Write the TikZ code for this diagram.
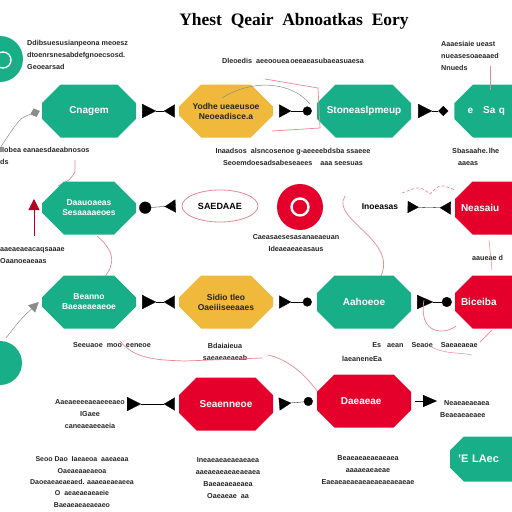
\documentclass[tikz,border=0pt]{standalone}
\usepackage{fontspec}
\setmainfont{Liberation Sans}
\newfontfamily\titlefont{Liberation Serif}
\usetikzlibrary{shapes.misc,shapes.geometric,arrows.meta}
\definecolor{tealc}{HTML}{17AE88}
\definecolor{redc}{HTML}{E4002B}
\definecolor{yelc}{HTML}{F0B93B}
\definecolor{linkred}{HTML}{E88A92}
\begin{document}
\begin{tikzpicture}[x=1pt,y=-1pt,
  hexa/.style={chamfered rectangle, chamfered rectangle xsep=20pt, chamfered rectangle ysep=13pt,
     minimum width=94pt, minimum height=53pt, inner sep=1pt, align=center,
     font=\bfseries\fontsize{10}{12}\selectfont},
  tealhex/.style={hexa, fill=tealc, text=white},
  redhex/.style={hexa, fill=redc, text=white},
  edgehex/.style={text width=82pt, align=left},
  yelhex/.style={hexa, fill=yelc, text=black!85, font=\bfseries\fontsize{8.5}{10}\selectfont},
  lbl/.style={align=center, inner sep=0pt, font=\bfseries\fontsize{7.2}{12}\selectfont, text=black!85},
  lbll/.style={lbl, align=left},
  bow/.style={{Triangle[reversed,length=14pt,width=14pt]}-{Triangle[reversed,length=11pt,width=13pt]}, line width=0.3pt},
  blob/.style={{Triangle[reversed,length=12pt,width=13pt,round]}-{Circle[length=9pt]}, line width=0.3pt},
  link/.style={linkred, line width=0.7pt},
  glink/.style={black!45, line width=0.5pt}]
\useasboundingbox (0,0) rectangle (512,512);
\fill[white] (0,0) rectangle (512,512);

% title
\node[font=\titlefont\bfseries\fontsize{17.5}{19}\selectfont] (title) at (294,21) {Yhest\ \ Qeair\ \ Abnoatkas\ \ Eory};

% corner circles
\node[circle, fill=tealc, minimum size=46pt, inner sep=0pt] (c1) at (0,59) {};
\draw[white, line width=1.4pt] (3,60) circle (8pt);
\node[circle, fill=tealc, minimum size=44pt, inner sep=0pt] (c2) at (0,363) {};

% ---------- row 1
\node[tealhex] (A) at (89,111) {Cnagem};
\node[yelhex] (B) at (226,111) {Yodhe ueaeusoe\\Neoeadisce.a};
\node[tealhex] (C) at (364,111) {Stoneaslpmeup};
\node[tealhex, edgehex] (D) at (502,111) {\ \ e\ \ \ Sa q};

\node[lbll, anchor=west] (t1) at (27,55) {Ddibsuesusianpeona\ meoesz\\dtoenrsnesabdefgnoecsosd.\\Geoearsad};
\node[lbl] (t2) at (293,61) {Dleoedis\ \ aeeoouea\hspace{1pt}oeeaeasubaeasuaesa};
\node[lbll, anchor=west] (t3) at (441,56) {Aaaesiaie\hspace{2pt}ueast\\ nueasesoaeaaed\\ Nnueds};
\node[lbll, anchor=west] (t4) at (0,156) {Ilobea eanaesdaeabnosos\\ ds};
\node[lbl] (t5) at (293,157) {Inaadsos\ \ alsncosenoe g-aeeeebdsba ssaeee\\Seoemdoesadsabeseaees \ \ \ aaa seesuas};
\node[lbll, anchor=west] (t6) at (452,157) {Sbasaahe.\hspace{1pt}lhe\\ \ \ \ aaeas};

\coordinate (g1) at (0,148);
\draw[glink, {Diamond[length=10pt,width=9pt]}-] ([xshift=-2pt]A.west) .. controls (20,118) .. (g1);
\draw[bow] ([xshift=6pt]A.east) -- ([xshift=-4pt]B.west);
\draw[blob] ([xshift=6pt]B.east) -- ([xshift=-5pt]C.west);
\draw[{Triangle[reversed,length=14pt,width=14pt]}-{Diamond[length=10pt,width=10pt]}, line width=0.3pt] ([xshift=7pt]C.east) -- ([xshift=-6pt]D.west);
\draw[glink] (222,98) .. controls (250,80) and (290,80) .. (310,104);
\draw[link] (265,79) -- (318,88) -- (320,128) -- (272,131);
\draw[link] (490,66) -- (490,90);
\draw[link] (75,160) -- (75,172) .. controls (70,180) .. (58,186);

% ---------- row 2
\node[tealhex, font=\bfseries\fontsize{8.5}{10}\selectfont] (E) at (89,208) {Daauoaeas\\Sesaaaaeoes};
\node[ellipse, draw=linkred, line width=0.8pt, minimum width=76pt, minimum height=32pt, inner sep=0pt,
      font=\bfseries\fontsize{9}{10}\selectfont] (F) at (220,206) {SAEDAAE};
\node[circle, fill=redc, minimum size=46pt, inner sep=0pt] (R) at (300,207) {};
\draw[white, line width=2.4pt] (R.center) circle (8.5pt);
\node[font=\bfseries\fontsize{8.5}{10}\selectfont] (T) at (380,207) {Inoeasas};
\node[redhex, edgehex] (G) at (502,208) {Neasaiu};

\draw[{Circle[length=12pt]}-{Triangle[reversed,length=11pt,width=13pt]}, line width=0.3pt] ([xshift=3pt]E.east) -- ([xshift=-6pt]F.west);
\draw[{Triangle[reversed,length=11pt,width=12pt,round]}-{Triangle[reversed,length=11pt,width=13pt]}, line width=0.3pt] ([xshift=6pt]T.east) -- ([xshift=-4pt]G.west);
\coordinate (u1) at (34,236);
\draw[redc!80!black, line width=0.8pt, -{Triangle[length=11pt,width=11pt]}] (u1) -- (34,199);

\node[lbll, anchor=west] (t7) at (0,256) {aaeaeaeacaqsaaae\\ Oaanoeaeaas};
\node[lbl] (t8) at (296,243) {Caeasaesesasanaeaeuan\\Ideaeaeaeasaus};
\node[lbll, anchor=west] (t9) at (472,258) {aaueae d};

\draw[link] (97,236) .. controls (120,255) and (112,270) .. (100,282);
\draw[link] (345,196) .. controls (330,220) and (400,240) .. (380,278);
\draw[link, densely dashed] (402,193) .. controls (420,186) .. (430,194) .. controls (440,184) .. (455,190);
\draw[link, line width=0.5pt] (489,240) -- (492,270);

% ---------- row 3
\node[tealhex, font=\bfseries\fontsize{8.5}{10}\selectfont] (H) at (89,302) {Beanno\\Baeaeaeaeoe};
\node[yelhex] (I) at (226,302) {Sidio tleo\\Oaeiiiseeaaes};
\node[tealhex] (J) at (364,302) {Aahoeoe};
\node[redhex, edgehex] (K) at (502,302) {Biceiba};

\draw[bow] ([xshift=6pt]H.east) -- ([xshift=-4pt]I.west);
\draw[blob] ([xshift=6pt]I.east) -- ([xshift=-5pt]J.west);
\draw[{Triangle[reversed,length=16pt,width=14pt]}-{Circle[length=10pt]}, line width=0.3pt] ([xshift=6pt]J.east) -- ([xshift=-3pt]K.west);
\coordinate (g2) at (6,338);
\draw[glink, -{Triangle[length=10pt,width=10pt]}] (g2) .. controls (20,320) .. ([xshift=-3pt]H.west);
\draw[link] (424,300) .. controls (418,335) and (445,335) .. (456,326);
\draw[link] (492,330) -- (480,342);

\node[lbl] (t10) at (112,345) {Seeuaoe\ \ moo\ \ eeneoe};
\node[lbl] (t11) at (225,352) {Bdaiaieua\\saeaeaeaeab};
\node[lbl] (t12) at (425,345) {Es\ \ \ aean\ \ \ \ Seaoe\ \ \ \ Saeaeaeae};
\node[lbl] (t13) at (362,359) {laeaneneEa};

\draw[link] (120,341) .. controls (135,360) and (160,360) .. (185,361) -- (262,358);
\draw[link] (268,355) .. controls (290,360) and (305,375) .. (318,392);
\draw[link, line width=0.5pt] (430,346) .. controls (445,355) and (460,352) .. (472,355);

% ---------- row 4
\node[redhex] (L) at (226,404) {Seaenneoe};
\node[redhex] (M) at (364,401) {Daeaeae\ \ };
\node[lbl] (t14) at (90,414) {Aaeaeeeeaeaeeeaeo\\IGaee\\caneaeaeeaeia};
\node[lbll, anchor=west] (t15) at (440,409) {\ \ Neaeaeaeaea\\Beaeaeaeaee};
\node[chamfered rectangle, chamfered rectangle xsep=8pt, chamfered rectangle ysep=10pt,
      fill=tealc, text=white, minimum width=80pt, minimum height=45pt, inner sep=0pt,
      text width=64pt, align=left,
      font=\bfseries\fontsize{11}{12}\selectfont] (N) at (490,459) {'E LAec};
\coordinate (arr) at (437,401);

\draw[bow] ([xshift=2pt]t14.north east |- L.west) -- ([xshift=-4pt]L.west);
\draw[blob] ([xshift=6pt]L.east) -- ([xshift=-4pt]M.west);
\draw[line width=0.3pt, -{Triangle[length=14pt,width=12pt]}] ([xshift=4pt]M.east) -- (arr);

% bottom texts
\node[lbl, font=\bfseries\fontsize{7}{11.4}\selectfont] (t16) at (82,482) {Seoo\ Dao\ \ Iaeaeoa\ \ aaeaeaa\\Oaeaeaaeaeoa\\Daoeaeaeaeaed. aaaeaeaeaeea\\O\ \ aeaeaeaeaeie\\Baeaeaeaeaeaeo};
\node[lbl] (t17) at (228,478) {Ineaeaeaeaeaeaea\\aaeaeaeaeaeaeaea\\Baeaeaeaeaea\\Oaeaeae\ \ aa};
\node[lbl] (t18) at (368,470) {Beaeaeaeaeaeaea\\aaaaeaeaeae\\Eaeaeaeaeaeaeaeaeaeaeae};
\end{tikzpicture}
\end{document}
